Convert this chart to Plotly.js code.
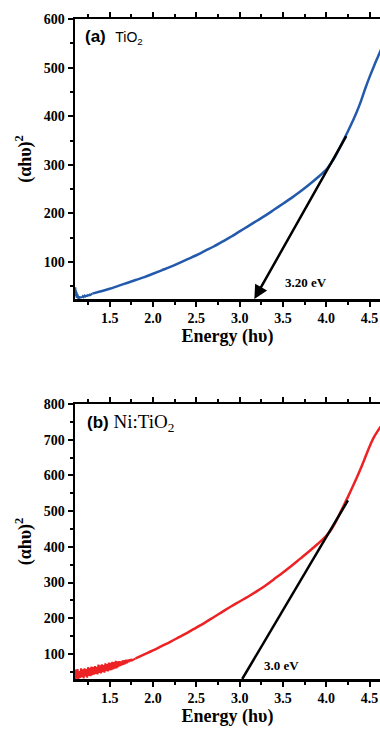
<!DOCTYPE html>
<html>
<head>
<meta charset="utf-8">
<script src="https://cdn.plot.ly/plotly-3.0.1.min.js"></script>
<style>html,body{margin:0;padding:0;background:#fff;overflow:hidden}#chart{width:380px;height:731px}</style>
</head>
<body>
<div id="chart"></div>
<script>
// ---- (a) TiO2 ----
// noisy low-energy part
const energyA_noisy = [1.100,1.104,1.108,1.112,1.116,1.120,1.124,1.128,1.132,1.136,1.140,1.145,1.150,1.155,1.160,1.165,1.170,1.175,1.180,1.190,1.200,1.210,1.220,1.230,1.240,1.250,1.260,1.270,1.280,1.290,1.300];
const absA_noisy = [34,48,30,42,27,38,26,34,25,32,24,30,25,29,26,28,26,29,27,30,28,31,29,31,30,32,31,33,32,34,35];
// smooth part
const energyA = [1.30,1.40,1.50,1.60,1.70,1.80,1.90,2.00,2.10,2.20,2.30,2.40,2.50,2.60,2.70,2.80,2.90,3.00,3.10,3.20,3.30,3.40,3.50,3.60,3.70,3.80,3.90,4.00,4.05,4.10,4.15,4.20,4.25,4.30,4.35,4.40,4.45,4.50,4.55,4.60,4.65];
const absA = [35,40,45,51,57,63,69,76,83,90,98,106,114,123,132,142,152,163,174,185,196,208,220,232,245,259,274,290,302,316,333,351,369,388,408,431,457,481,503,524,545];
const tangentA_E = [3.17, 4.24];
const tangentA_V = [24, 362];
const gapA = "3.20 eV";
const gapA_pos = [3.77, 57];

// ---- (b) Ni:TiO2 ----
const energyB_noisy = [1.10,1.11,1.12,1.13,1.14,1.15,1.16,1.17,1.18,1.19,1.20,1.21,1.22,1.23,1.24,1.25,1.26,1.27,1.28,1.29,
  1.30,1.31,1.32,1.33,1.34,1.35,1.36,1.37,1.38,1.39,1.40,1.41,1.42,1.43,1.44,1.45,1.46,1.47,1.48,1.49,
  1.50,1.51,1.52,1.53,1.54,1.55,1.56,1.57,1.58,1.59,1.60,1.61,1.62,1.63,1.64,1.65,1.66,1.67,1.68,1.69,
  1.70,1.71,1.72,1.73,1.74,1.75,1.76,1.78,1.80];
const absB_noisy = [28,56,31,58,30,52,33,60,35,57,32,60,37,58,34,63,39,61,38,65,
  41,63,42,66,44,64,43,70,47,68,46,71,49,69,48,74,52,72,51,76,
  54,75,55,78,57,77,59,81,60,79,63,80,66,79,68,82,70,83,72,84,
  74,84,77,85,79,86,82,85,88];
const energyB = [1.80,1.90,2.00,2.10,2.20,2.30,2.40,2.50,2.60,2.70,2.80,2.90,3.00,3.10,3.20,3.30,3.40,3.50,3.60,3.70,3.80,3.90,
  4.00,4.05,4.10,4.15,4.20,4.25,4.30,4.35,4.40,4.45,4.50,4.55,4.60,4.65];
const absB = [88,99,110,122,134,147,160,174,188,203,218,233,247,261,276,292,310,328,347,367,387,408,
  431,446,466,490,515,540,566,593,621,651,681,707,727,744];
const tangentB_E = [3.03, 4.25];
const tangentB_V = [30, 530];
const gapB = "3.0 eV";
const gapB_pos = [3.48, 69];

const serif = "Liberation Serif, Times New Roman, serif";
const sans = "Liberation Sans, Arial, sans-serif";

const H = 731;
const domA = [1 - 299 / H, 1 - 19 / H];
const domB = [1 - 679 / H, 1 - 404 / H];

function xax(anchor) {
  return {
    anchor: anchor, domain: [0, 1], range: [1.1, 4.62],
    tick0: 1.5, dtick: 0.5, tickformat: ".1f",
    ticks: "outside", ticklen: 5, tickwidth: 2, tickcolor: "#000",
    minor: {dtick: 0.25, tick0: 1.5, ticks: "outside", ticklen: 3, tickwidth: 2, tickcolor: "#000"},
    showline: true, linewidth: 2.5, linecolor: "#000", mirror: "allticks",
    showgrid: false, zeroline: false,
    tickfont: {family: serif, size: 14, color: "#000", weight: "bold"},
    title: {text: "Energy (hυ)", font: {family: serif, size: 18, color: "#000", weight: "bold"}, standoff: 4},
    automargin: false
  };
}
function yax(anchor, dom, rng) {
  return {
    anchor: anchor, domain: dom, range: rng,
    tick0: 0, dtick: 100,
    ticks: "outside", ticklen: 5, tickwidth: 2, tickcolor: "#000",
    minor: {dtick: 50, tick0: 0, ticks: "outside", ticklen: 3, tickwidth: 2, tickcolor: "#000"},
    showline: true, linewidth: 2.5, linecolor: "#000", mirror: false,
    showgrid: false, zeroline: false,
    tickfont: {family: serif, size: 14, color: "#000", weight: "bold"},
    title: {text: "(αhυ)<sup>2</sup>", font: {family: serif, size: 18, color: "#000", weight: "bold"}, standoff: 8},
    automargin: false
  };
}

const blue = "rgb(35,90,172)";
const red = "rgb(237,34,36)";
const traces = [
  {x: energyA_noisy, y: absA_noisy, type: "scatter", mode: "lines", line: {color: blue, width: 2}, xaxis: "x", yaxis: "y", showlegend: false, hoverinfo: "skip"},
  {x: energyA, y: absA, type: "scatter", mode: "lines", line: {color: blue, width: 2.5, shape: "spline", smoothing: 1}, xaxis: "x", yaxis: "y", showlegend: false, hoverinfo: "skip"},
  {x: energyB_noisy, y: absB_noisy, type: "scatter", mode: "lines", line: {color: red, width: 2}, xaxis: "x2", yaxis: "y2", showlegend: false, hoverinfo: "skip"},
  {x: energyB, y: absB, type: "scatter", mode: "lines", line: {color: red, width: 2.5, shape: "spline", smoothing: 1}, xaxis: "x2", yaxis: "y2", showlegend: false, hoverinfo: "skip"},
  {x: tangentB_E, y: tangentB_V, type: "scatter", mode: "lines", line: {color: "#000", width: 2.5}, xaxis: "x2", yaxis: "y2", showlegend: false, hoverinfo: "skip"}
];

const layout = {
  width: 380, height: H,
  margin: {l: 75, r: 0, t: 0, b: 0},
  paper_bgcolor: "#fff", plot_bgcolor: "#fff",
  showlegend: false,
  xaxis: xax("y"),
  yaxis: yax("x", domA, [24, 600]),
  xaxis2: xax("y2"),
  yaxis2: yax("x2", domB, [30, 800]),
  annotations: [
    {xref: "x", yref: "y", x: tangentA_E[0], y: tangentA_V[0], ax: tangentA_E[1], ay: tangentA_V[1], axref: "x", ayref: "y",
     showarrow: true, arrowhead: 2, arrowsize: 1.1, arrowwidth: 2.5, arrowcolor: "#000", text: ""},
    {xref: "x", yref: "y", x: gapA_pos[0], y: gapA_pos[1], text: gapA, showarrow: false,
     font: {family: serif, size: 13, color: "#000", weight: "bold"}},
    {xref: "x2", yref: "y2", x: gapB_pos[0], y: gapB_pos[1], text: gapB, showarrow: false,
     font: {family: serif, size: 13, color: "#000", weight: "bold"}},
    {xref: "x", yref: "y", x: 1.19, y: 563, xanchor: "left", yanchor: "middle", showarrow: false,
     text: "<b>(a)</b>  <span style=\"font-size:14px\">TiO<sub>2</sub></span>",
     font: {family: sans, size: 17, color: "#000"}},
    {xref: "x2", yref: "y2", x: 1.22, y: 747, xanchor: "left", yanchor: "middle", showarrow: false,
     text: "<b>(b)</b> <span style=\"font-family:Liberation Serif;font-size:19px\">Ni:TiO<sub>2</sub></span>",
     font: {family: sans, size: 17, color: "#000"}}
  ]
};

Plotly.newPlot("chart", traces, layout, {staticPlot: true, displayModeBar: false});
</script>
</body>
</html>
